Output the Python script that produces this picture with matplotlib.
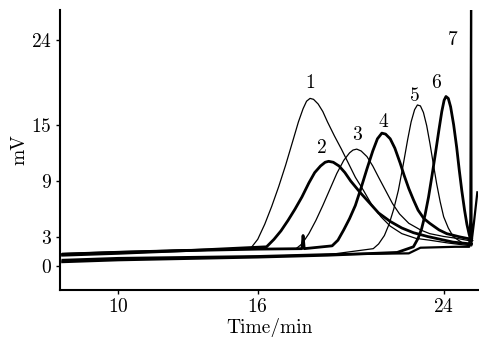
import matplotlib
matplotlib.use("Agg")
import matplotlib.pyplot as plt

# ==== Data (time in min, signal in mV) ====
# left baselines run from 7.6 min, curves 1-4 sit on the upper one, 5-7 on the lower one
t1 = [7.6, 10, 13, 15.7, 16.0, 16.3, 16.6, 16.9, 17.2, 17.5, 17.75, 17.95, 18.1, 18.25,
      18.4, 18.6, 18.8, 19.0, 19.3, 19.6, 19.9, 20.2, 20.55, 20.9, 21.3, 21.7, 22.2,
      22.8, 23.4, 24.2, 24.85, 25.2]
v1 = [1.2, 1.4, 1.6, 1.85, 2.8, 4.4, 6.3, 8.4, 10.7, 13.2, 15.3, 16.7, 17.5, 17.8,
      17.7, 17.2, 16.4, 15.3, 13.8, 12.4, 10.9, 9.4, 8.0, 6.5, 5.2, 4.2, 3.4,
      2.9, 2.7, 2.4, 2.2, 2.1]

t2 = [7.6, 10, 13, 16.38, 16.7, 17.0, 17.3, 17.6, 17.9, 18.2, 18.45, 18.7, 18.9, 19.05,
      19.25, 19.5, 19.75, 20.0, 20.4, 20.8, 21.2, 21.7, 22.2, 22.7, 23.3, 23.85, 24.4, 25.2]
v2 = [1.1, 1.3, 1.6, 2.0, 2.8, 3.7, 4.8, 6.0, 7.3, 8.8, 9.9, 10.6, 11.0, 11.1,
      11.0, 10.6, 9.9, 9.0, 7.8, 6.7, 5.6, 4.7, 4.0, 3.5, 3.1, 2.8, 2.5, 2.3]

t3 = [7.6, 10, 13, 17.65, 17.9, 18.2, 18.5, 18.8, 19.1, 19.4, 19.7, 19.95, 20.1, 20.26,
      20.45, 20.7, 20.95, 21.2, 21.5, 21.8, 22.1, 22.5, 23.0, 23.4, 24.0, 24.56, 25.2]
v3 = [1.3, 1.5, 1.7, 1.8, 2.3, 3.4, 4.8, 6.4, 8.1, 9.8, 11.2, 12.0, 12.3, 12.4,
      12.2, 11.6, 10.6, 9.4, 8.0, 6.6, 5.5, 4.5, 3.8, 3.4, 3.1, 2.9, 2.6]

t4 = [7.6, 10, 13, 16, 17.9, 17.95, 18.0, 19.2, 19.45, 19.7, 19.95, 20.2, 20.45, 20.7,
      20.95, 21.15, 21.34, 21.5, 21.7, 21.9, 22.13, 22.3, 22.5, 22.7, 22.9, 23.15, 23.4,
      23.8, 24.13, 24.7, 25.2]
v4 = [1.2, 1.4, 1.6, 1.75, 1.8, 3.2, 1.8, 2.1, 2.7, 3.8, 5.0, 6.4, 8.3, 10.3,
      12.2, 13.5, 14.1, 14.0, 13.5, 12.5, 10.9, 9.6, 8.2, 7.0, 5.9, 5.0, 4.5,
      3.8, 3.4, 3.05, 2.8]

t5 = [7.6, 10, 13, 16, 19, 20.97, 21.2, 21.45, 21.65, 21.85, 22.05, 22.25, 22.45, 22.6,
      22.75, 22.87, 23.0, 23.13, 23.27, 23.41, 23.55, 23.7, 23.85, 24.0, 24.2, 24.42,
      24.85, 25.2]
v5 = [0.5, 0.7, 0.8, 0.95, 1.15, 1.8, 2.3, 3.2, 4.4, 6.0, 8.0, 10.6, 13.4, 15.3,
      16.6, 17.1, 17.0, 16.3, 14.9, 13.0, 10.9, 8.7, 6.8, 5.2, 4.0, 3.05,
      2.35, 2.2]

t6 = [7.6, 10, 13, 16, 19, 22.0, 22.7, 22.9, 23.05, 23.2, 23.35, 23.5, 23.65, 23.8,
      23.92, 24.02, 24.1, 24.2, 24.3, 24.43, 24.56, 24.67, 24.78, 24.9, 25.0, 25.1, 25.21]
v6 = [0.4, 0.6, 0.75, 0.9, 1.1, 1.4, 2.0, 2.9, 3.9, 5.4, 7.3, 9.6, 12.0, 14.5,
      16.4, 17.6, 18.0, 17.8, 16.9, 15.0, 12.6, 10.2, 8.0, 5.9, 4.4, 3.3, 2.7]

t7 = [7.6, 10, 13, 16, 19, 22.5, 23.0, 24.5, 25.1, 25.15, 25.18, 25.2, 25.3, 25.45]
v7 = [0.6, 0.8, 0.9, 1.0, 1.2, 1.3, 1.9, 2.0, 2.0, 5.0, 28.0, 2.5, 4.5, 7.8]

peak_labels = ["1", "2", "3", "4", "5", "6", "7"]
label_t = [18.25, 18.76, 20.27, 21.39, 22.77, 23.67, 24.4]
label_v = [19.4, 12.5, 13.9, 15.3, 18.1, 19.4, 24.0]

x_ticks = [10, 16, 24]
y_ticks = [0, 3, 9, 15, 24]

# ==== Style ====
plt.rcParams["font.family"] = "serif"
plt.rcParams["font.serif"] = ["cmr10"]
plt.rcParams["mathtext.fontset"] = "cm"
plt.rcParams["axes.formatter.use_mathtext"] = True

THIN = 0.9
THICK = 2.0
FS = 14

fig = plt.figure(figsize=(4.79, 3.37), dpi=100)
ax = fig.add_axes([0.1253, 0.1395, 0.8727, 0.8305])

ax.plot(t1, v1, color="black", lw=THIN)
ax.plot(t2, v2, color="black", lw=THICK)
ax.plot(t3, v3, color="black", lw=THIN)
ax.plot(t4, v4, color="black", lw=THICK)
ax.plot(t5, v5, color="black", lw=THIN)
ax.plot(t6, v6, color="black", lw=THICK)
ax.plot(t7, v7, color="black", lw=1.6)

for lab, tx, ty in zip(peak_labels, label_t, label_v):
    ax.text(tx, ty, lab, fontsize=FS, ha="center", va="center")

ax.set_xlim(7.49, 25.48)
ax.set_ylim(-2.6, 27.2)
ax.set_xticks(x_ticks)
ax.set_yticks(y_ticks)
ax.tick_params(labelsize=FS, length=3, width=1, direction="out", pad=3)

for side in ["top", "right"]:
    ax.spines[side].set_visible(False)
for side in ["left", "bottom"]:
    ax.spines[side].set_linewidth(1.5)

ax.set_xlabel("Time/min", fontsize=FS, labelpad=1)
ax.set_ylabel("mV", fontsize=FS, labelpad=2)

fig.savefig("out.png", dpi=100)
